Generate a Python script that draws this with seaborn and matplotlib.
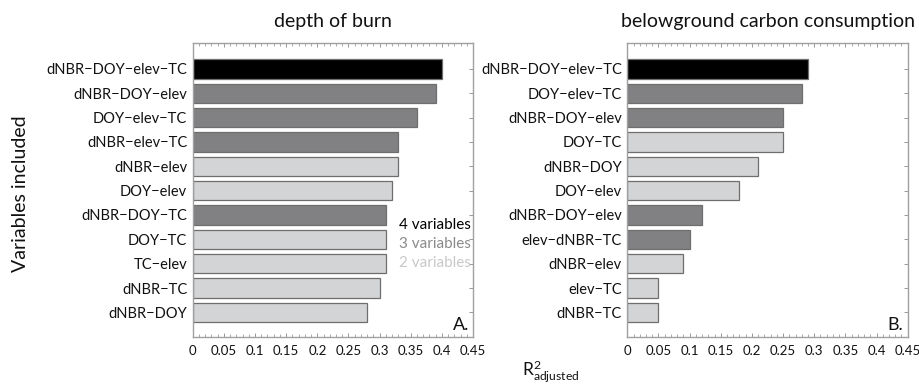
import matplotlib
matplotlib.use("Agg")
import matplotlib.pyplot as plt
from matplotlib.ticker import MultipleLocator, FixedLocator
import numpy as np
import pandas as pd
import seaborn as sns

# Model rankings (adjusted R^2) for each response variable
dob_models = ["dNBR−DOY−elev−TC", "dNBR−DOY−elev", "DOY−elev−TC", "dNBR−elev−TC",
              "dNBR−elev", "DOY−elev", "dNBR−DOY−TC", "DOY−TC", "TC−elev",
              "dNBR−TC", "dNBR−DOY"]
dob_r2 = [0.40, 0.39, 0.36, 0.33, 0.33, 0.32, 0.31, 0.31, 0.31, 0.30, 0.28]
dob_nvars = [4, 3, 3, 3, 2, 2, 3, 2, 2, 2, 2]

bcc_models = ["dNBR−DOY−elev−TC", "DOY−elev−TC", "dNBR−DOY−elev", "DOY−TC",
              "dNBR−DOY", "DOY−elev", "dNBR−DOY−elev", "elev−dNBR−TC",
              "dNBR−elev", "elev−TC", "dNBR−TC"]
bcc_r2 = [0.29, 0.28, 0.25, 0.25, 0.21, 0.18, 0.12, 0.10, 0.09, 0.05, 0.05]
bcc_nvars = [4, 3, 3, 2, 2, 2, 3, 3, 2, 2, 2]

titles = ["depth of burn", "belowground carbon consumption"]
panel_tags = ["A.", "B."]
legend_labels = ["4 variables", "3 variables", "2 variables"]
x_ticks = [0, 0.05, 0.1, 0.15, 0.2, 0.25, 0.3, 0.35, 0.4, 0.45]
x_tick_labels = ["0", "0.05", "0.1", "0.15", "0.2", "0.25", "0.3", "0.35", "0.4", "0.45"]

palette = {4: "#000000", 3: "#808084", 2: "#d3d4d6"}
legend_colors = ["#000000", "#8a8a8a", "#c8c8c8"]
frame_color = "#a0a0a0"

sns.set_theme(style="white")
plt.rcParams["font.family"] = ["Lato", "DejaVu Sans"]
plt.rcParams["mathtext.fontset"] = "custom"
plt.rcParams["mathtext.rm"] = "Lato"
plt.rcParams["mathtext.it"] = "Lato:italic"

fig = plt.figure(figsize=(9.19, 3.87), dpi=100)
ax_a = fig.add_axes([0.2097, 0.130, 0.3051, 0.758])
ax_b = fig.add_axes([0.6826, 0.130, 0.3051, 0.758])

panels = [
    (ax_a, dob_models, dob_r2, dob_nvars),
    (ax_b, bcc_models, bcc_r2, bcc_nvars),
]

for i, (ax, models, r2, nvars) in enumerate(panels):
    df = pd.DataFrame({"rank": np.arange(len(models)), "r2": r2, "nvars": nvars})
    sns.barplot(data=df, x="r2", y="rank", hue="nvars", palette=palette,
                orient="h", dodge=False, width=0.8, edgecolor="#6e6e6e",
                linewidth=0.9, legend=False, ax=ax)
    ax.set_xlim(0, 0.45)
    ax.set_ylim(11.0, -1.05)
    ax.xaxis.set_major_locator(FixedLocator(x_ticks))
    ax.set_xticklabels(x_tick_labels)
    ax.xaxis.set_minor_locator(MultipleLocator(0.01))
    ax.set_yticks(np.arange(len(models)))
    ax.set_yticklabels(models)
    ax.tick_params(axis="both", which="both", direction="in", color="#888888",
                   top=True, bottom=True, left=True, right=True,
                   labelcolor="#111111")
    ax.tick_params(axis="x", which="major", length=3, width=0.6, pad=6,
                   labelsize=9.5)
    ax.tick_params(axis="x", which="minor", length=2, width=0.5)
    ax.tick_params(axis="y", which="major", length=3, width=0.6, pad=4,
                   labelsize=10.5)
    ax.set_xlabel("")
    ax.set_ylabel("")
    for sp in ax.spines.values():
        sp.set_visible(True)
        sp.set_color(frame_color)
        sp.set_linewidth(1.0)
    ax.set_title(titles[i], fontsize=14, pad=12, color="#111111")
    ax.text(0.985, 0.012, panel_tags[i], transform=ax.transAxes,
            ha="right", va="bottom", fontsize=13, color="#111111")

# Colour key for the number of predictors
for j, (lab, col) in enumerate(zip(legend_labels, legend_colors)):
    ax_a.text(0.331, 6.4 + 0.78 * j, lab, ha="left", va="center",
              fontsize=11, color=col)

fig.text(0.022, 1 - 194 / 387, "Variables included", rotation=90,
         ha="center", va="center", fontsize=14, color="#111111")
fig.text(551 / 919, 1 - 372 / 387, r"$\mathrm{R}^{2}_{\mathrm{adjusted}}$",
         ha="center", va="center", fontsize=12.5, color="#111111")

fig.savefig("out.png", dpi=100)
